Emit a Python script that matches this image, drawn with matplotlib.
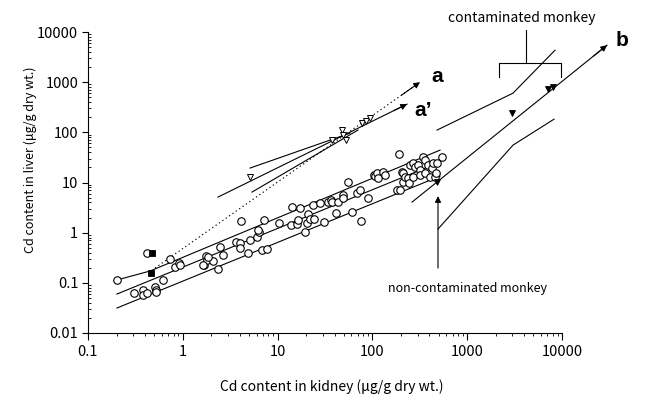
import numpy as np
import matplotlib
matplotlib.use("Agg")
import matplotlib.pyplot as plt

plt.rcParams['font.family'] = ['Noto Sans CJK JP', 'DejaVu Sans']

# ---------------- data ----------------
# open circles (non-contaminated group)
circ_x = [0.202, 0.305, 0.380, 0.380, 0.419, 0.509, 0.521, 0.521, 0.618, 0.733,
          0.828, 0.912, 0.933, 1.67, 1.76, 1.80, 2.08, 2.35, 2.47, 2.65,
          3.64, 4.01, 4.01, 4.11, 4.87, 5.12, 6.07, 6.37, 6.85, 7.73,
          7.19, 10.3, 13.8, 14.2, 16.0, 17.2, 16.4, 19.5, 20.4, 20.9,
          22.0, 23.6, 24.2, 28.0, 30.9, 34.0, 36.6, 37.5, 41.3, 43.4,
          49.0, 49.0, 55.3, 60.9, 68.9, 74.0, 75.8, 89.9, 104, 107,
          112, 115, 129, 136, 182, 191, 196, 205, 210, 210,
          221, 238, 243, 249, 268, 268, 281, 303, 318, 318,
          342, 359, 359, 386, 405, 425, 436, 457, 469, 481,
          542, 1.63, 1.85, 6.21, 0.419]
circ_y = [0.114, 0.0627, 0.0719, 0.0571, 0.0627, 0.0824, 0.0719, 0.0656, 0.114, 0.298,
          0.206, 0.248, 0.226, 0.226, 0.342, 0.284, 0.272, 0.188, 0.516, 0.358,
          0.650, 0.621, 0.493, 1.70, 0.393, 0.713, 0.817, 1.03, 0.450, 0.471,
          1.78, 1.55, 1.42, 3.24, 1.48, 3.09, 1.78, 1.03, 1.55, 2.35,
          1.87, 3.55, 1.87, 3.89, 1.63, 4.07, 4.46, 4.07, 2.46, 4.07,
          5.61, 4.89, 10.2, 2.57, 6.15, 7.06, 1.70, 4.89, 14.0, 13.4,
          15.4, 12.2, 16.1, 14.0, 7.06, 36.8, 7.06, 16.1, 15.4, 10.2,
          12.8, 12.2, 9.73, 22.2, 24.3, 12.8, 20.3, 22.2, 17.7, 14.0,
          32.1, 27.9, 15.4, 22.2, 12.8, 19.4, 24.3, 12.8, 15.4, 24.3,
          32.1, 0.226, 0.327, 1.13, 0.393]

# filled squares
sq_x = [0.473, 0.462]
sq_y = [0.393, 0.157]

# open down-triangles
otri_x = [5.12, 37.5, 47.8, 49.0, 52.7, 77.6, 85.7, 94.4]
otri_y = [12.8, 70, 111, 88, 70, 152, 167, 192]

# filled down-triangles (contaminated monkey)
ftri_x = [481, 2972, 7127, 8040]
ftri_y = [10.2, 241, 725, 795]

# regression / band lines of the circle group
circ_up_x = [0.202, 0.451, 517]
circ_up_y = [0.114, 0.172, 44.2]
circ_mid_x = [0.202, 517]
circ_mid_y = [0.0598, 25.5]
circ_low_x = [0.202, 517]
circ_low_y = [0.0315, 13.4]

# triangle group lines
a_dot_x = [0.509, 318]
a_dot_y = [0.197, 1000]
a_sol_x = [2.35, 232]
a_sol_y = [5.12, 365]
tri_up_x = [5.12, 58.0]
tri_up_y = [19.4, 96.4]
tri_low_x = [5.37, 70.5]
tri_low_y = [6.44, 111]

# contaminated monkey lines
b_x = [262, 29850]
b_y = [4.07, 5458]
cont_up_x = [481, 3043, 8440]
cont_up_y = [111, 604, 4338]
cont_low_x = [492, 3043, 8240]
cont_low_y = [1.18, 55.6, 183]

x_ticks = [0.1, 1, 10, 100, 1000, 10000]
x_ticklabels = ['0.1', '1', '10', '100', '1000', '10000']
y_ticks = [0.01, 0.1, 1, 10, 100, 1000, 10000]
y_ticklabels = ['0.01', '0.1', '1', '10', '100', '1000', '10000']

# ---------------- figure ----------------
fig = plt.figure(figsize=(6.47, 3.96), dpi=100)
ax = fig.add_axes([88/647, 63/396, 474/647, 301/396])
ax.set_xscale('log')
ax.set_yscale('log')
ax.set_xlim(0.1, 10000)
ax.set_ylim(0.01, 10000)

lw = 0.8
lk = dict(color='black', lw=lw, clip_on=False, zorder=2)

def arrow_line(xs, ys, ls='-'):
    ax.plot(xs, ys, linestyle=ls, **lk)
    lx0, ly0 = np.log10(xs[-2]), np.log10(ys[-2])
    lx1, ly1 = np.log10(xs[-1]), np.log10(ys[-1])
    t = 0.93
    px = 10 ** (lx0 + t * (lx1 - lx0))
    py = 10 ** (ly0 + t * (ly1 - ly0))
    ax.annotate('', xy=(xs[-1], ys[-1]), xytext=(px, py),
                arrowprops=dict(arrowstyle='-|>', color='black', lw=lw,
                                mutation_scale=9, shrinkA=0, shrinkB=0),
                annotation_clip=False)

for xs, ys in [(circ_up_x, circ_up_y), (circ_mid_x, circ_mid_y), (circ_low_x, circ_low_y),
               (tri_up_x, tri_up_y), (tri_low_x, tri_low_y),
               (cont_up_x, cont_up_y), (cont_low_x, cont_low_y)]:
    ax.plot(xs, ys, **lk)

arrow_line(a_dot_x, a_dot_y, ls=(0, (1.2, 2.5)))
arrow_line(a_sol_x, a_sol_y)
arrow_line(b_x, b_y)

ax.plot(circ_x, circ_y, 'o', ms=5.4, mfc='white', mec='black', mew=0.8, zorder=3, clip_on=False)
ax.plot(sq_x, sq_y, 's', ms=4.5, mfc='black', mec='black', mew=0.6, zorder=4, clip_on=False)
ax.plot(otri_x, otri_y, 'v', ms=5, mfc='white', mec='black', mew=0.7, zorder=4, clip_on=False)
ax.plot(ftri_x, ftri_y, 'v', ms=5, mfc='black', mec='black', mew=0.6, zorder=4, clip_on=False)

# non-contaminated annotation arrow
ax.annotate('', xy=(492, 5.36), xytext=(492, 0.197),
            arrowprops=dict(arrowstyle='-|>', color='black', lw=lw,
                            mutation_scale=9, shrinkA=0, shrinkB=0),
            annotation_clip=False)
ax.text(1000, 0.0787, 'non-contaminated monkey', ha='center', va='center', fontsize=9)

# contaminated bracket
ax.plot([2168, 2168, 9770, 9770], [1259, 2390, 2390, 1259], **lk)
ax.plot([4170, 4170], [2390, 10860], **lk)
ax.text(3785, 18800, 'contaminated monkey', ha='center', va='center', fontsize=10, clip_on=False)

bold = dict(fontsize=15, fontweight='bold', family='Liberation Sans', ha='center', va='center')
ax.text(481, 1316, 'a', **bold)
ax.text(342, 277, "a\u2019", **bold)
ax.text(42970, 6866, 'b', **bold)

# axes styling
for s in ['top', 'right']:
    ax.spines[s].set_visible(False)
for s in ['left', 'bottom']:
    ax.spines[s].set_linewidth(0.8)

ax.set_xticks(x_ticks)
ax.set_xticklabels(x_ticklabels)
ax.set_yticks(y_ticks)
ax.set_yticklabels(y_ticklabels)
ax.xaxis.set_minor_locator(matplotlib.ticker.LogLocator(base=10, subs=np.arange(2, 10), numticks=20))
ax.yaxis.set_minor_locator(matplotlib.ticker.LogLocator(base=10, subs=np.arange(2, 10), numticks=20))
ax.xaxis.set_minor_formatter(matplotlib.ticker.NullFormatter())
ax.yaxis.set_minor_formatter(matplotlib.ticker.NullFormatter())
ax.tick_params(axis='x', which='major', direction='out', length=5, width=0.8, labelsize=10.5, pad=4)
ax.tick_params(axis='x', which='minor', direction='out', length=2.5, width=0.6)
ax.tick_params(axis='y', which='major', direction='out', length=4, width=0.8, labelsize=10.5, pad=3)
ax.tick_params(axis='y', which='minor', direction='in', length=2.5, width=0.6)

fig.text(332/647, 1 - 387/396, 'Cd content in kidney (\u03bcg/g dry wt.)', ha='center', va='center', fontsize=10)
fig.text(30/647, 1 - 160/396, 'Cd content in liver (\u03bcg/g dry wt.)', ha='center', va='center',
         fontsize=9, rotation=90)

fig.savefig('out.png', dpi=100)
